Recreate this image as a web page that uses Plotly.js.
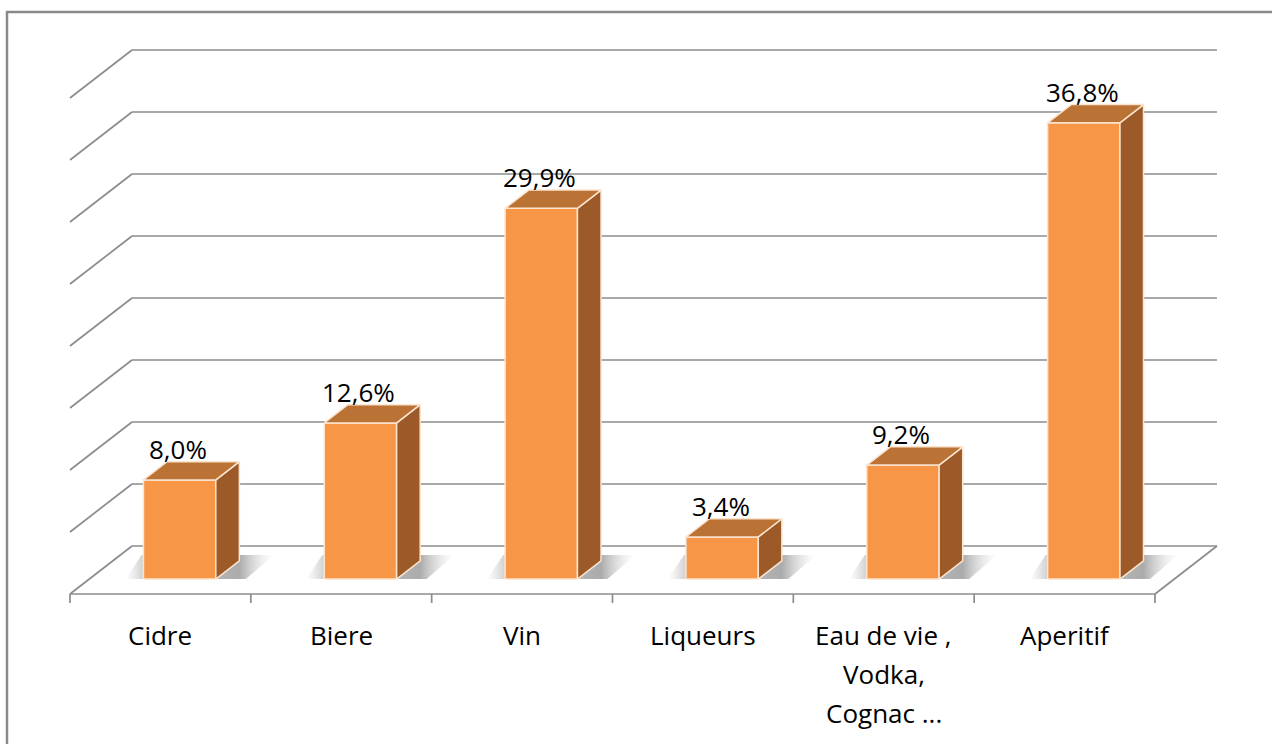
<!DOCTYPE html>
<html><head><meta charset="utf-8">
<script src="https://cdn.plot.ly/plotly-3.0.1.min.js"></script>
<style>html,body{margin:0;padding:0;background:#fff;overflow:hidden}</style>
</head><body><div id="chart" style="width:1272px;height:744px"></div>
<script>
// ---- data ----
const categories = ["Cidre", "Biere", "Vin", "Liqueurs", "Eau de vie ,\nVodka,\nCognac ...", "Aperitif"];
const values = [8.0, 12.6, 29.9, 3.4, 9.2, 36.8];
const valueLabels = ["8,0%", "12,6%", "29,9%", "3,4%", "9,2%", "36,8%"];
const gridValues = [0, 5, 10, 15, 20, 25, 30, 35, 40];

// ---- geometry (oblique 3D projection, in axis units) ----
const W = 1272, H = 744;
const PX_CAT = 180.83, PX_PCT = 12.4;      // scale of axes
const X0PX = 70, Y0PX = 594;               // front-left corner of the floor
const DX = 62 / PX_CAT, DY = 48 / PX_PCT;  // full depth vector
const F = 0.31, D = 0.38, BW = 0.40;       // bar front depth, bar depth, bar width
const n = categories.length;

const FRONT = '#F79646', SIDE = '#9B5A27', TOP = '#BB7235', EDGE = '#FCE4CF';
const GRID = '#8c8c8c';
const FONT = 'Open Sans';

const traces = [];

// grid / walls / floor
const gx = [], gy = [];
function seg(x1, y1, x2, y2) { gx.push(x1, x2, null); gy.push(y1, y2, null); }
gridValues.forEach(v => {
  seg(DX, v + DY, n + DX, v + DY);
  if (v > 0) seg(0, v, DX, v + DY);
});
seg(0, 0, n, 0);
seg(n, 0, n + DX, DY);
seg(0, 0, DX, DY);
for (let i = 0; i <= n; i++) seg(i, 0, i, -9 / PX_PCT);
traces.push({x: gx, y: gy, mode: 'lines', line: {color: GRID, width: 1.7}, hoverinfo: 'skip'});

// bars
const annotations = [];
values.forEach((v, i) => {
  const cx = i + 0.5 + F * DX;
  const xl = cx - BW / 2, xr = cx + BW / 2;
  const y0 = F * DY, yt = y0 + v;
  const ddx = D * DX, ddy = D * DY;
  // soft floor shadow
  const sl = xl - 18 / PX_CAT, sr = xr + 58 / PX_CAT, sh = 24 / PX_PCT;
  const span = sr - sl;
  traces.push({
    x: [sl, xr + 30 / PX_CAT, sr, xl - 2 / PX_CAT, sl],
    y: [y0, y0, y0 + sh, y0 + sh, y0],
    mode: 'lines', line: {width: 0}, fill: 'toself',
    fillgradient: {type: 'horizontal', start: sl, stop: sr, colorscale: [
      [0, 'rgba(170,170,170,0)'],
      [(xl - sl) / span, 'rgba(150,150,150,0.45)'],
      [(xr - sl) / span, 'rgba(120,120,120,0.55)'],
      [(xr + ddx - sl) / span, 'rgba(115,115,115,0.6)'],
      [1, 'rgba(200,200,200,0)']]},
    hoverinfo: 'skip'
  });
  // front face
  traces.push({x: [xl, xr, xr, xl, xl], y: [y0, y0, yt, yt, y0], mode: 'lines', fill: 'toself',
    fillcolor: FRONT, line: {color: EDGE, width: 1.5}, hoverinfo: 'skip'});
  // side face
  traces.push({x: [xr, xr + ddx, xr + ddx, xr, xr], y: [y0, y0 + ddy, yt + ddy, yt, y0], mode: 'lines', fill: 'toself',
    fillcolor: SIDE, line: {color: EDGE, width: 1.5}, hoverinfo: 'skip'});
  // top face
  traces.push({x: [xl, xr, xr + ddx, xl + ddx, xl], y: [yt, yt, yt + ddy, yt + ddy, yt], mode: 'lines', fill: 'toself',
    fillcolor: TOP, line: {color: EDGE, width: 1.5}, hoverinfo: 'skip'});
  // value label
  annotations.push({x: cx - 1.5 / PX_CAT, y: yt + ddy + 13 / PX_PCT, xref: 'x', yref: 'y',
    text: valueLabels[i], showarrow: false, xanchor: 'center', yanchor: 'middle',
    font: {family: FONT, size: 26, color: '#000'}});
});

// category labels (one annotation per text line)
categories.forEach((c, i) => {
  c.split('\n').forEach((line, k) => {
    annotations.push({x: i + 0.5, y: (Y0PX - (634.5 + 39 * k)) / PX_PCT, xref: 'x', yref: 'y',
      text: line, showarrow: false, xanchor: 'center', yanchor: 'middle',
      font: {family: FONT, size: 26, color: '#000'}});
  });
});

const layout = {
  width: W, height: H,
  margin: {l: 0, r: 0, t: 0, b: 0, pad: 0},
  paper_bgcolor: '#fff', plot_bgcolor: '#fff',
  showlegend: false,
  xaxis: {range: [-X0PX / PX_CAT, (W - X0PX) / PX_CAT], visible: false, fixedrange: true},
  yaxis: {range: [(Y0PX - H) / PX_PCT, Y0PX / PX_PCT], visible: false, fixedrange: true},
  annotations: annotations,
  shapes: [{type: 'rect', xref: 'paper', yref: 'paper', x0: 7 / W, x1: 1.02, y0: -0.02, y1: 1 - 12 / H,
    line: {color: '#8a8a8a', width: 2.5}, layer: 'below'}]
};

Plotly.newPlot('chart', traces, layout, {staticPlot: true, displayModeBar: false});
</script></body></html>
